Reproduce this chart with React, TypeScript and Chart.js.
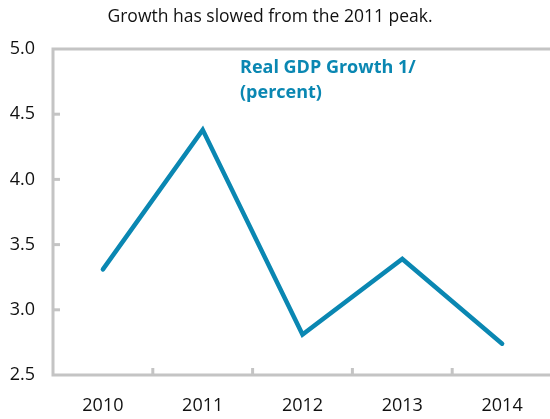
import React, { useEffect, useRef } from "react";
import { Chart, registerables } from "chart.js";

Chart.register(...registerables);

const categories = ["2010", "2011", "2012", "2013", "2014"];
const gdpGrowth = [3.31, 4.38, 2.81, 3.39, 2.74];
const titleText = "Growth has slowed from the 2011 peak.";
const noteLines = ["Real GDP Growth 1/", "(percent)"];

const LINE_COLOR = "#0a87b2";
const AXIS_COLOR = "#c4c4c4";
const FONT = "'Open Sans', 'Noto Sans', sans-serif";

const framePlugin = {
  id: "frame",
  afterDraw(chart: any) {
    const { ctx, chartArea } = chart;
    const xs = chart.scales.x;
    const ys = chart.scales.y;
    ctx.save();
    ctx.strokeStyle = AXIS_COLOR;
    ctx.lineWidth = 3;
    ctx.beginPath();
    ctx.moveTo(chartArea.right + 5, chartArea.top);
    ctx.lineTo(chartArea.left, chartArea.top);
    ctx.lineTo(chartArea.left, chartArea.bottom);
    ctx.lineTo(chartArea.right + 5, chartArea.bottom);
    ctx.stroke();
    ys.ticks.forEach((t: any, i: number) => {
      const y = ys.getPixelForTick(i);
      if (Math.abs(y - chartArea.top) < 2 || Math.abs(y - chartArea.bottom) < 2) return;
      ctx.beginPath();
      ctx.moveTo(chartArea.left, y);
      ctx.lineTo(chartArea.left + 7, y);
      ctx.stroke();
    });
    for (let i = 1; i < categories.length; i++) {
      const x = (xs.getPixelForValue(i - 1) + xs.getPixelForValue(i)) / 2;
      ctx.beginPath();
      ctx.moveTo(x, chartArea.bottom);
      ctx.lineTo(x, chartArea.bottom - 7);
      ctx.stroke();
    }
    ctx.fillStyle = "#111";
    ctx.font = `17.5px ${FONT}`;
    ctx.textAlign = "center";
    ctx.textBaseline = "middle";
    ctx.fillText(titleText, 270, 17);
    ctx.fillStyle = LINE_COLOR;
    ctx.font = `bold 18px ${FONT}`;
    ctx.textAlign = "left";
    noteLines.forEach((l, i) => {
      ctx.fillText(l, chartArea.left + 187, chartArea.top + 19 + i * 25);
    });
    ctx.restore();
  },
};

export default function App() {
  const ref = useRef<HTMLCanvasElement | null>(null);
  useEffect(() => {
    document.body.style.margin = "0";
    if (!ref.current) return;
    const chart = new Chart(ref.current, {
      type: "line",
      data: {
        labels: categories,
        datasets: [
          {
            data: gdpGrowth,
            borderColor: LINE_COLOR,
            borderWidth: 4.5,
            borderCapStyle: "round",
            borderJoinStyle: "miter",
            pointRadius: 0,
            tension: 0,
            clip: false as any,
          },
        ],
      },
      options: {
        animation: false,
        responsive: false,
        layout: { padding: { top: 49, right: 1, left: 0, bottom: 0 } },
        plugins: { legend: { display: false }, title: { display: false }, tooltip: { enabled: false } },
        scales: {
          x: {
            offset: true,
            grid: { display: false, drawTicks: false },
            border: { display: false },
            ticks: { color: "#111", font: { family: FONT, size: 18 }, padding: 20 },
            afterFit: (s: any) => {
              s.height = 44;
            },
          },
          y: {
            min: 2.5,
            max: 5.0,
            grid: { display: false, drawTicks: false },
            border: { display: false },
            ticks: {
              stepSize: 0.5,
              color: "#111",
              font: { family: FONT, size: 18 },
              padding: 18,
              callback: (v: any) => Number(v).toFixed(1),
            },
            afterFit: (s: any) => {
              s.width = 53;
            },
          },
        },
      },
      plugins: [framePlugin],
    });
    return () => chart.destroy();
  }, []);
  return (
    <div style={{ width: 550, height: 419, overflow: "hidden", position: "relative", background: "#fff" }}>
      <canvas ref={ref} width={553} height={419} style={{ display: "block" }} />
    </div>
  );
}
